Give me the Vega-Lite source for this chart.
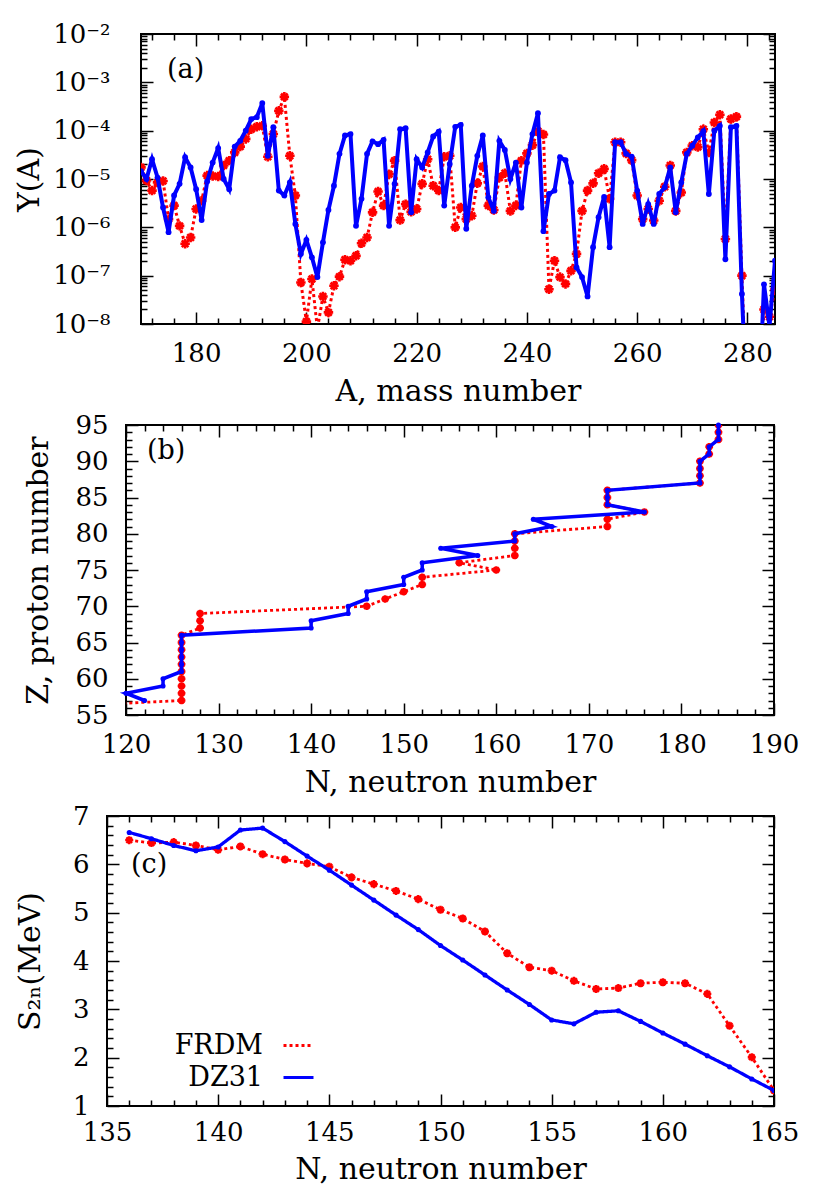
{
  "$schema": "https://vega.github.io/schema/vega-lite/v6.json",
  "background": "white",
  "padding": {"left": 5, "top": 20, "right": 5, "bottom": 5},
  "datasets": {
    "pa": [
      {"A":170,"Y":1.445e-5,"model":"DZ31"},{"A":171,"Y":1.0e-5,"model":"DZ31"},{"A":172,"Y":2.57e-5,"model":"DZ31"},{"A":173,"Y":1.072e-5,"model":"DZ31"},{"A":174,"Y":2.57e-6,"model":"DZ31"},{"A":175,"Y":7.943e-7,"model":"DZ31"},{"A":176,"Y":4.571e-6,"model":"DZ31"},{"A":177,"Y":7.943e-6,"model":"DZ31"},{"A":178,"Y":2.818e-5,"model":"DZ31"},{"A":179,"Y":1.738e-5,"model":"DZ31"},
      {"A":180,"Y":6.166e-6,"model":"DZ31"},{"A":181,"Y":1.413e-6,"model":"DZ31"},{"A":182,"Y":8.913e-6,"model":"DZ31"},{"A":183,"Y":2.188e-5,"model":"DZ31"},{"A":184,"Y":4.365e-5,"model":"DZ31"},{"A":185,"Y":1.0e-5,"model":"DZ31"},{"A":186,"Y":6.166e-6,"model":"DZ31"},{"A":187,"Y":4.677e-5,"model":"DZ31"},{"A":188,"Y":6.166e-5,"model":"DZ31"},{"A":189,"Y":1.0e-4,"model":"DZ31"},
      {"A":190,"Y":1.738e-4,"model":"DZ31"},{"A":191,"Y":1.905e-4,"model":"DZ31"},{"A":192,"Y":3.715e-4,"model":"DZ31"},{"A":193,"Y":3.02e-5,"model":"DZ31"},{"A":194,"Y":1.175e-4,"model":"DZ31"},{"A":195,"Y":5.754e-6,"model":"DZ31"},{"A":196,"Y":4.571e-6,"model":"DZ31"},{"A":197,"Y":8.511e-6,"model":"DZ31"},{"A":198,"Y":1.175e-6,"model":"DZ31"},{"A":199,"Y":2.818e-7,"model":"DZ31"},
      {"A":200,"Y":5.495e-7,"model":"DZ31"},{"A":201,"Y":2.399e-7,"model":"DZ31"},{"A":202,"Y":9.333e-8,"model":"DZ31"},{"A":203,"Y":4.898e-7,"model":"DZ31"},{"A":204,"Y":2.291e-6,"model":"DZ31"},{"A":205,"Y":7.244e-6,"model":"DZ31"},{"A":206,"Y":3.311e-5,"model":"DZ31"},{"A":207,"Y":7.943e-5,"model":"DZ31"},{"A":208,"Y":8.511e-5,"model":"DZ31"},{"A":209,"Y":1.072e-6,"model":"DZ31"},
      {"A":210,"Y":3.89e-6,"model":"DZ31"},{"A":211,"Y":3.311e-5,"model":"DZ31"},{"A":212,"Y":6.026e-5,"model":"DZ31"},{"A":213,"Y":5.248e-5,"model":"DZ31"},{"A":214,"Y":6.457e-5,"model":"DZ31"},{"A":215,"Y":1.072e-6,"model":"DZ31"},{"A":216,"Y":7.943e-6,"model":"DZ31"},{"A":217,"Y":1.072e-4,"model":"DZ31"},{"A":218,"Y":1.122e-4,"model":"DZ31"},{"A":219,"Y":2.042e-6,"model":"DZ31"},
      {"A":220,"Y":2.57e-5,"model":"DZ31"},{"A":221,"Y":1.738e-5,"model":"DZ31"},{"A":222,"Y":3.548e-5,"model":"DZ31"},{"A":223,"Y":7.586e-5,"model":"DZ31"},{"A":224,"Y":9.55e-5,"model":"DZ31"},{"A":225,"Y":2.818e-6,"model":"DZ31"},{"A":226,"Y":2.042e-5,"model":"DZ31"},{"A":227,"Y":1.202e-4,"model":"DZ31"},{"A":228,"Y":1.318e-4,"model":"DZ31"},{"A":229,"Y":9.333e-7,"model":"DZ31"},
      {"A":230,"Y":7.244e-6,"model":"DZ31"},{"A":231,"Y":3.02e-5,"model":"DZ31"},{"A":232,"Y":7.943e-5,"model":"DZ31"},{"A":233,"Y":4.169e-6,"model":"DZ31"},{"A":234,"Y":2.188e-6,"model":"DZ31"},{"A":235,"Y":6.166e-5,"model":"DZ31"},{"A":236,"Y":3.981e-5,"model":"DZ31"},{"A":237,"Y":1.0e-5,"model":"DZ31"},{"A":238,"Y":2.188e-5,"model":"DZ31"},{"A":239,"Y":2.57e-6,"model":"DZ31"},
      {"A":240,"Y":2.188e-5,"model":"DZ31"},{"A":241,"Y":8.511e-5,"model":"DZ31"},{"A":242,"Y":2.291e-4,"model":"DZ31"},{"A":243,"Y":8.318e-7,"model":"DZ31"},{"A":244,"Y":4.898e-6,"model":"DZ31"},{"A":245,"Y":5.754e-6,"model":"DZ31"},{"A":246,"Y":2.818e-5,"model":"DZ31"},{"A":247,"Y":2.455e-5,"model":"DZ31"},{"A":248,"Y":8.511e-6,"model":"DZ31"},{"A":249,"Y":1.479e-7,"model":"DZ31"},
      {"A":250,"Y":9.333e-8,"model":"DZ31"},{"A":251,"Y":3.715e-8,"model":"DZ31"},{"A":252,"Y":3.89e-7,"model":"DZ31"},{"A":253,"Y":1.622e-6,"model":"DZ31"},{"A":254,"Y":4.266e-6,"model":"DZ31"},{"A":255,"Y":3.89e-7,"model":"DZ31"},{"A":256,"Y":5.754e-5,"model":"DZ31"},{"A":257,"Y":5.754e-5,"model":"DZ31"},{"A":258,"Y":3.311e-5,"model":"DZ31"},{"A":259,"Y":2.884e-5,"model":"DZ31"},
      {"A":260,"Y":5.754e-6,"model":"DZ31"},{"A":261,"Y":1.175e-6,"model":"DZ31"},{"A":262,"Y":3.02e-6,"model":"DZ31"},{"A":263,"Y":1.175e-6,"model":"DZ31"},{"A":264,"Y":4.898e-6,"model":"DZ31"},{"A":265,"Y":6.761e-6,"model":"DZ31"},{"A":266,"Y":1.738e-5,"model":"DZ31"},{"A":267,"Y":2.042e-6,"model":"DZ31"},{"A":268,"Y":8.511e-6,"model":"DZ31"},{"A":269,"Y":3.311e-5,"model":"DZ31"},
      {"A":270,"Y":4.898e-5,"model":"DZ31"},{"A":271,"Y":7.244e-5,"model":"DZ31"},{"A":272,"Y":9.772e-5,"model":"DZ31"},{"A":273,"Y":4.898e-6,"model":"DZ31"},{"A":274,"Y":1.0e-4,"model":"DZ31"},{"A":275,"Y":1.259e-4,"model":"DZ31"},{"A":276,"Y":2.188e-7,"model":"DZ31"},{"A":277,"Y":1.175e-4,"model":"DZ31"},{"A":278,"Y":1.259e-4,"model":"DZ31"},{"A":279,"Y":4.169e-8,"model":"DZ31"},
      {"A":280,"Y":1e-10,"model":"DZ31"},{"A":281,"Y":1e-10,"model":"DZ31"},{"A":282,"Y":1e-10,"model":"DZ31"},{"A":283,"Y":6.607e-8,"model":"DZ31"},{"A":284,"Y":8.913e-9,"model":"DZ31"},{"A":285,"Y":2.042e-7,"model":"DZ31"},
      {"A":170,"Y":1.738e-5,"model":"FRDM"},{"A":171,"Y":9.333e-6,"model":"FRDM"},{"A":172,"Y":5.754e-6,"model":"FRDM"},{"A":173,"Y":8.511e-6,"model":"FRDM"},{"A":174,"Y":9.12e-6,"model":"FRDM"},{"A":175,"Y":1.479e-6,"model":"FRDM"},{"A":176,"Y":2.818e-6,"model":"FRDM"},{"A":177,"Y":1.072e-6,"model":"FRDM"},{"A":178,"Y":4.571e-7,"model":"FRDM"},{"A":179,"Y":6.166e-7,"model":"FRDM"},
      {"A":180,"Y":2.399e-6,"model":"FRDM"},{"A":181,"Y":3.548e-6,"model":"FRDM"},{"A":182,"Y":1.175e-5,"model":"FRDM"},{"A":183,"Y":1.148e-5,"model":"FRDM"},{"A":184,"Y":1.122e-5,"model":"FRDM"},{"A":185,"Y":1.905e-5,"model":"FRDM"},{"A":186,"Y":2.399e-5,"model":"FRDM"},{"A":187,"Y":3.548e-5,"model":"FRDM"},{"A":188,"Y":4.677e-5,"model":"FRDM"},{"A":189,"Y":6.761e-5,"model":"FRDM"},
      {"A":190,"Y":1.072e-4,"model":"FRDM"},{"A":191,"Y":1.202e-4,"model":"FRDM"},{"A":192,"Y":1.259e-4,"model":"FRDM"},{"A":193,"Y":2.884e-5,"model":"FRDM"},{"A":194,"Y":8.511e-5,"model":"FRDM"},{"A":195,"Y":2.57e-4,"model":"FRDM"},{"A":196,"Y":5.012e-4,"model":"FRDM"},{"A":197,"Y":3.02e-5,"model":"FRDM"},{"A":198,"Y":4.571e-6,"model":"FRDM"},{"A":199,"Y":7.244e-8,"model":"FRDM"},
      {"A":200,"Y":1.122e-8,"model":"FRDM"},{"A":201,"Y":8.511e-8,"model":"FRDM"},{"A":202,"Y":7.943e-9,"model":"FRDM"},{"A":203,"Y":3.715e-8,"model":"FRDM"},{"A":204,"Y":1.738e-8,"model":"FRDM"},{"A":205,"Y":6.166e-8,"model":"FRDM"},{"A":206,"Y":9.55e-8,"model":"FRDM"},{"A":207,"Y":2.138e-7,"model":"FRDM"},{"A":208,"Y":2.042e-7,"model":"FRDM"},{"A":209,"Y":2.57e-7,"model":"FRDM"},
      {"A":210,"Y":4.677e-7,"model":"FRDM"},{"A":211,"Y":6.166e-7,"model":"FRDM"},{"A":212,"Y":2.042e-6,"model":"FRDM"},{"A":213,"Y":5.495e-6,"model":"FRDM"},{"A":214,"Y":2.818e-6,"model":"FRDM"},{"A":215,"Y":1.259e-5,"model":"FRDM"},{"A":216,"Y":2.399e-5,"model":"FRDM"},{"A":217,"Y":1.413e-6,"model":"FRDM"},{"A":218,"Y":3.02e-6,"model":"FRDM"},{"A":219,"Y":2.089e-6,"model":"FRDM"},
      {"A":220,"Y":2.399e-6,"model":"FRDM"},{"A":221,"Y":7.943e-6,"model":"FRDM"},{"A":222,"Y":2.57e-5,"model":"FRDM"},{"A":223,"Y":7.244e-6,"model":"FRDM"},{"A":224,"Y":5.754e-6,"model":"FRDM"},{"A":225,"Y":2.884e-5,"model":"FRDM"},{"A":226,"Y":3.02e-5,"model":"FRDM"},{"A":227,"Y":1.0e-6,"model":"FRDM"},{"A":228,"Y":2.57e-6,"model":"FRDM"},{"A":229,"Y":1.479e-6,"model":"FRDM"},
      {"A":230,"Y":1.738e-6,"model":"FRDM"},{"A":231,"Y":8.128e-6,"model":"FRDM"},{"A":232,"Y":1.82e-5,"model":"FRDM"},{"A":233,"Y":2.818e-6,"model":"FRDM"},{"A":234,"Y":2.291e-6,"model":"FRDM"},{"A":235,"Y":1.072e-5,"model":"FRDM"},{"A":236,"Y":1.318e-5,"model":"FRDM"},{"A":237,"Y":2.188e-6,"model":"FRDM"},{"A":238,"Y":2.818e-6,"model":"FRDM"},{"A":239,"Y":2.399e-5,"model":"FRDM"},
      {"A":240,"Y":3.388e-5,"model":"FRDM"},{"A":241,"Y":5.012e-5,"model":"FRDM"},{"A":242,"Y":9.772e-5,"model":"FRDM"},{"A":243,"Y":8.318e-5,"model":"FRDM"},{"A":244,"Y":5.248e-8,"model":"FRDM"},{"A":245,"Y":2.042e-7,"model":"FRDM"},{"A":246,"Y":9.333e-8,"model":"FRDM"},{"A":247,"Y":6.761e-8,"model":"FRDM"},{"A":248,"Y":1.259e-7,"model":"FRDM"},{"A":249,"Y":2.818e-7,"model":"FRDM"},
      {"A":250,"Y":2.188e-6,"model":"FRDM"},{"A":251,"Y":5.754e-6,"model":"FRDM"},{"A":252,"Y":8.128e-6,"model":"FRDM"},{"A":253,"Y":1.318e-5,"model":"FRDM"},{"A":254,"Y":1.622e-5,"model":"FRDM"},{"A":255,"Y":3.89e-6,"model":"FRDM"},{"A":256,"Y":5.754e-5,"model":"FRDM"},{"A":257,"Y":5.754e-5,"model":"FRDM"},{"A":258,"Y":3.388e-5,"model":"FRDM"},{"A":259,"Y":2.455e-5,"model":"FRDM"},
      {"A":260,"Y":4.571e-6,"model":"FRDM"},{"A":261,"Y":1.479e-6,"model":"FRDM"},{"A":262,"Y":2.399e-6,"model":"FRDM"},{"A":263,"Y":1.38e-6,"model":"FRDM"},{"A":264,"Y":3.548e-6,"model":"FRDM"},{"A":265,"Y":6.918e-6,"model":"FRDM"},{"A":266,"Y":1.905e-5,"model":"FRDM"},{"A":267,"Y":2.188e-6,"model":"FRDM"},{"A":268,"Y":5.248e-6,"model":"FRDM"},{"A":269,"Y":3.548e-5,"model":"FRDM"},
      {"A":270,"Y":4.898e-5,"model":"FRDM"},{"A":271,"Y":4.571e-5,"model":"FRDM"},{"A":272,"Y":1.072e-4,"model":"FRDM"},{"A":273,"Y":3.548e-5,"model":"FRDM"},{"A":274,"Y":1.479e-4,"model":"FRDM"},{"A":275,"Y":2.138e-4,"model":"FRDM"},{"A":276,"Y":5.754e-7,"model":"FRDM"},{"A":277,"Y":1.738e-4,"model":"FRDM"},{"A":278,"Y":1.95e-4,"model":"FRDM"},{"A":279,"Y":1.0e-7,"model":"FRDM"},
      {"A":280,"Y":1e-10,"model":"FRDM"},{"A":281,"Y":1e-10,"model":"FRDM"},{"A":282,"Y":1e-10,"model":"FRDM"},{"A":283,"Y":1.995e-8,"model":"FRDM"},{"A":284,"Y":1.413e-8,"model":"FRDM"},{"A":285,"Y":5.248e-8,"model":"FRDM"}
    ],
    "pb": [
      {"N":122,"Z":57,"model":"DZ31"},{"N":120,"Z":58,"model":"DZ31"},{"N":124,"Z":59,"model":"DZ31"},{"N":124,"Z":60,"model":"DZ31"},{"N":126,"Z":61,"model":"DZ31"},{"N":126,"Z":62,"model":"DZ31"},{"N":126,"Z":63,"model":"DZ31"},{"N":126,"Z":64,"model":"DZ31"},{"N":126,"Z":65,"model":"DZ31"},{"N":126,"Z":66,"model":"DZ31"},
      {"N":140,"Z":67,"model":"DZ31"},{"N":140,"Z":68,"model":"DZ31"},{"N":144,"Z":69,"model":"DZ31"},{"N":144,"Z":70,"model":"DZ31"},{"N":146,"Z":71,"model":"DZ31"},{"N":146,"Z":72,"model":"DZ31"},{"N":150,"Z":73,"model":"DZ31"},{"N":150,"Z":74,"model":"DZ31"},{"N":152,"Z":75,"model":"DZ31"},{"N":152,"Z":76,"model":"DZ31"},
      {"N":158,"Z":77,"model":"DZ31"},{"N":154,"Z":78,"model":"DZ31"},{"N":162,"Z":79,"model":"DZ31"},{"N":162,"Z":80,"model":"DZ31"},{"N":166,"Z":81,"model":"DZ31"},{"N":164,"Z":82,"model":"DZ31"},{"N":176,"Z":83,"model":"DZ31"},{"N":172,"Z":84,"model":"DZ31"},{"N":172,"Z":85,"model":"DZ31"},{"N":172,"Z":86,"model":"DZ31"},
      {"N":182,"Z":87,"model":"DZ31"},{"N":182,"Z":88,"model":"DZ31"},{"N":182,"Z":89,"model":"DZ31"},{"N":182,"Z":90,"model":"DZ31"},{"N":183,"Z":91,"model":"DZ31"},{"N":183,"Z":92,"model":"DZ31"},{"N":184,"Z":93,"model":"DZ31"},{"N":184,"Z":94,"model":"DZ31"},{"N":184,"Z":95,"model":"DZ31"},
      {"N":110,"Z":56,"model":"FRDM"},{"N":126,"Z":57,"model":"FRDM"},{"N":126,"Z":58,"model":"FRDM"},{"N":126,"Z":59,"model":"FRDM"},{"N":126,"Z":60,"model":"FRDM"},{"N":126,"Z":61,"model":"FRDM"},{"N":126,"Z":62,"model":"FRDM"},{"N":126,"Z":63,"model":"FRDM"},{"N":126,"Z":64,"model":"FRDM"},{"N":126,"Z":65,"model":"FRDM"},{"N":126,"Z":66,"model":"FRDM"},
      {"N":128,"Z":67,"model":"FRDM"},{"N":128,"Z":68,"model":"FRDM"},{"N":128,"Z":69,"model":"FRDM"},{"N":146,"Z":70,"model":"FRDM"},{"N":148,"Z":71,"model":"FRDM"},{"N":150,"Z":72,"model":"FRDM"},{"N":152,"Z":73,"model":"FRDM"},{"N":152,"Z":74,"model":"FRDM"},{"N":160,"Z":75,"model":"FRDM"},{"N":156,"Z":76,"model":"FRDM"},
      {"N":162,"Z":77,"model":"FRDM"},{"N":162,"Z":78,"model":"FRDM"},{"N":162,"Z":79,"model":"FRDM"},{"N":162,"Z":80,"model":"FRDM"},{"N":172,"Z":81,"model":"FRDM"},{"N":172,"Z":82,"model":"FRDM"},{"N":176,"Z":83,"model":"FRDM"},{"N":172,"Z":84,"model":"FRDM"},{"N":172,"Z":85,"model":"FRDM"},{"N":172,"Z":86,"model":"FRDM"},
      {"N":182,"Z":87,"model":"FRDM"},{"N":182,"Z":88,"model":"FRDM"},{"N":182,"Z":89,"model":"FRDM"},{"N":182,"Z":90,"model":"FRDM"},{"N":183,"Z":91,"model":"FRDM"},{"N":183,"Z":92,"model":"FRDM"},{"N":184,"Z":93,"model":"FRDM"},{"N":184,"Z":94,"model":"FRDM"},{"N":184,"Z":95,"model":"FRDM"}
    ],
    "pc": [
      {"N":136,"S":6.66,"model":"DZ31"},{"N":137,"S":6.53,"model":"DZ31"},{"N":138,"S":6.39,"model":"DZ31"},{"N":139,"S":6.28,"model":"DZ31"},{"N":140,"S":6.36,"model":"DZ31"},{"N":141,"S":6.71,"model":"DZ31"},{"N":142,"S":6.75,"model":"DZ31"},{"N":143,"S":6.47,"model":"DZ31"},{"N":144,"S":6.17,"model":"DZ31"},{"N":145,"S":5.88,"model":"DZ31"},
      {"N":146,"S":5.57,"model":"DZ31"},{"N":147,"S":5.26,"model":"DZ31"},{"N":148,"S":4.95,"model":"DZ31"},{"N":149,"S":4.65,"model":"DZ31"},{"N":150,"S":4.32,"model":"DZ31"},{"N":151,"S":4.02,"model":"DZ31"},{"N":152,"S":3.71,"model":"DZ31"},{"N":153,"S":3.40,"model":"DZ31"},{"N":154,"S":3.10,"model":"DZ31"},{"N":155,"S":2.78,"model":"DZ31"},
      {"N":156,"S":2.70,"model":"DZ31"},{"N":157,"S":2.94,"model":"DZ31"},{"N":158,"S":2.97,"model":"DZ31"},{"N":159,"S":2.75,"model":"DZ31"},{"N":160,"S":2.51,"model":"DZ31"},{"N":161,"S":2.28,"model":"DZ31"},{"N":162,"S":2.04,"model":"DZ31"},{"N":163,"S":1.81,"model":"DZ31"},{"N":164,"S":1.56,"model":"DZ31"},{"N":165,"S":1.32,"model":"DZ31"},
      {"N":136,"S":6.50,"model":"FRDM"},{"N":137,"S":6.44,"model":"FRDM"},{"N":138,"S":6.46,"model":"FRDM"},{"N":139,"S":6.39,"model":"FRDM"},{"N":140,"S":6.30,"model":"FRDM"},{"N":141,"S":6.37,"model":"FRDM"},{"N":142,"S":6.21,"model":"FRDM"},{"N":143,"S":6.10,"model":"FRDM"},{"N":144,"S":6.02,"model":"FRDM"},{"N":145,"S":5.95,"model":"FRDM"},
      {"N":146,"S":5.73,"model":"FRDM"},{"N":147,"S":5.59,"model":"FRDM"},{"N":148,"S":5.45,"model":"FRDM"},{"N":149,"S":5.28,"model":"FRDM"},{"N":150,"S":5.06,"model":"FRDM"},{"N":151,"S":4.88,"model":"FRDM"},{"N":152,"S":4.61,"model":"FRDM"},{"N":153,"S":4.16,"model":"FRDM"},{"N":154,"S":3.87,"model":"FRDM"},{"N":155,"S":3.80,"model":"FRDM"},
      {"N":156,"S":3.59,"model":"FRDM"},{"N":157,"S":3.42,"model":"FRDM"},{"N":158,"S":3.44,"model":"FRDM"},{"N":159,"S":3.54,"model":"FRDM"},{"N":160,"S":3.56,"model":"FRDM"},{"N":161,"S":3.54,"model":"FRDM"},{"N":162,"S":3.32,"model":"FRDM"},{"N":163,"S":2.66,"model":"FRDM"},{"N":164,"S":2.01,"model":"FRDM"},{"N":165,"S":1.32,"model":"FRDM"}
    ],
    "one": [{"dummy": 0}]
  },
  "spacing": 4,
  "vconcat": [
    {
      "spacing": 0,
      "bounds": "flush",
      "hconcat": [
        {"width": 136, "height": 10, "data": {"name": "one"}, "mark": {"type": "point", "opacity": 0}, "view": {"stroke": null}},
        {
          "width": 634,
          "height": 290,
          "title": {"text": "(a)", "orient": "top", "anchor": "start", "frame": "group", "offset": 0, "dx": 26, "dy": 76, "baseline": "middle", "fontSize": 27, "font": "DejaVu Serif", "fontWeight": "normal", "color": "black"},
          "data": {"name": "pa"},
          "layer": [
            {
              "encoding": {
                "x": {"field": "A", "type": "quantitative", "scale": {"domain": [170, 285], "nice": false, "zero": false},
                  "axis": {"orient": "bottom", "title": "A, mass number", "values": [172,176,180,184,188,192,196,200,204,208,212,216,220,224,228,232,236,240,244,248,252,256,260,264,268,272,276,280,284],
                    "labelExpr": "datum.value % 20 === 0 ? format(datum.value, 'd') : ''",
                    "tickSize": {"condition": {"test": "datum.value % 20 === 0", "value": -12}, "value": -6},
                    "labelPadding": 28, "titlePadding": 4}},
                "y": {"field": "Y", "type": "quantitative", "scale": {"type": "log", "domain": [1e-8, 1e-2], "nice": false},
                  "axis": {"orient": "left", "title": "Y(A)", "values": [1e-8,2e-8,3e-8,4e-8,5e-8,6e-8,7e-8,8e-8,9e-8,1e-7,2e-7,3e-7,4e-7,5e-7,6e-7,7e-7,8e-7,9e-7,1e-6,2e-6,3e-6,4e-6,5e-6,6e-6,7e-6,8e-6,9e-6,1e-5,2e-5,3e-5,4e-5,5e-5,6e-5,7e-5,8e-5,9e-5,1e-4,2e-4,3e-4,4e-4,5e-4,6e-4,7e-4,8e-4,9e-4,1e-3,2e-3,3e-3,4e-3,5e-3,6e-3,7e-3,8e-3,9e-3,1e-2],
                    "labelExpr": "abs(log(datum.value)/LN10 - round(log(datum.value)/LN10)) < 0.01 ? '10' + ['⁻⁸','⁻⁷','⁻⁶','⁻⁵','⁻⁴','⁻³','⁻²'][round(log(datum.value)/LN10) + 8] : ''",
                    "tickSize": {"condition": {"test": "abs(log(datum.value)/LN10 - round(log(datum.value)/LN10)) < 0.01", "value": -12}, "value": -6},
                    "labelPadding": 43, "titlePadding": 8}}
              },
              "layer": [
                {"transform": [{"filter": "datum.model === 'FRDM'"}], "mark": {"type": "line", "color": "#ff0000", "strokeWidth": 3, "strokeDash": [3, 3], "clip": true}},
                {"transform": [{"filter": "datum.model === 'FRDM'"}], "mark": {"type": "point", "shape": "M-1,0L1,0M0,-1L0,1M-0.7,-0.7L0.7,0.7M-0.7,0.7L0.7,-0.7", "filled": false, "stroke": "#ff0000", "strokeWidth": 2.6, "size": 90, "opacity": 1, "clip": true}},
                {"transform": [{"filter": "datum.model === 'DZ31'"}], "mark": {"type": "line", "color": "#0000ff", "strokeWidth": 4, "clip": true}},
                {"transform": [{"filter": "datum.model === 'DZ31'"}], "mark": {"type": "point", "shape": "circle", "filled": true, "color": "#0000ff", "size": 34, "opacity": 1, "clip": true}}
              ]
            },
            {
              "transform": [{"filter": "datum.Y >= 1e-8"}],
              "mark": {"type": "point", "opacity": 0},
              "encoding": {
                "x": {"field": "A", "type": "quantitative", "axis": {"orient": "top", "title": null, "labels": false, "values": [172,176,180,184,188,192,196,200,204,208,212,216,220,224,228,232,236,240,244,248,252,256,260,264,268,272,276,280,284],
                    "tickSize": {"condition": {"test": "datum.value % 20 === 0", "value": -12}, "value": -6}}},
                "y": {"field": "Y", "type": "quantitative", "axis": {"orient": "right", "title": null, "labels": false, "values": [1e-8,2e-8,3e-8,4e-8,5e-8,6e-8,7e-8,8e-8,9e-8,1e-7,2e-7,3e-7,4e-7,5e-7,6e-7,7e-7,8e-7,9e-7,1e-6,2e-6,3e-6,4e-6,5e-6,6e-6,7e-6,8e-6,9e-6,1e-5,2e-5,3e-5,4e-5,5e-5,6e-5,7e-5,8e-5,9e-5,1e-4,2e-4,3e-4,4e-4,5e-4,6e-4,7e-4,8e-4,9e-4,1e-3,2e-3,3e-3,4e-3,5e-3,6e-3,7e-3,8e-3,9e-3,1e-2],
                    "tickSize": {"condition": {"test": "abs(log(datum.value)/LN10 - round(log(datum.value)/LN10)) < 0.01", "value": -12}, "value": -6}}}
              }
            }
          ],
          "resolve": {"axis": {"x": "independent", "y": "independent"}}
        }
      ]
    },
    {
      "spacing": 0,
      "bounds": "flush",
      "hconcat": [
        {"width": 121, "height": 10, "data": {"name": "one"}, "mark": {"type": "point", "opacity": 0}, "view": {"stroke": null}},
        {
          "width": 648,
          "height": 290,
          "title": {"text": "(b)", "orient": "top", "anchor": "start", "frame": "group", "offset": 0, "dx": 21, "dy": 66, "baseline": "middle", "fontSize": 27, "font": "DejaVu Serif", "fontWeight": "normal", "color": "black"},
          "data": {"name": "pb"},
          "layer": [
            {
              "encoding": {
                "x": {"field": "N", "type": "quantitative", "scale": {"domain": [120, 190], "nice": false, "zero": false},
                  "axis": {"orient": "bottom", "title": "N, neutron number", "values": [120,122,124,126,128,130,132,134,136,138,140,142,144,146,148,150,152,154,156,158,160,162,164,166,168,170,172,174,176,178,180,182,184,186,188,190],
                    "labelExpr": "datum.value % 10 === 0 ? format(datum.value, 'd') : ''",
                    "tickSize": {"condition": {"test": "datum.value % 10 === 0", "value": -12}, "value": -6},
                    "labelPadding": 28, "titlePadding": 4}},
                "y": {"field": "Z", "type": "quantitative", "scale": {"domain": [55, 95], "nice": false, "zero": false},
                  "axis": {"orient": "left", "title": "Z, proton number", "values": [55,56,57,58,59,60,61,62,63,64,65,66,67,68,69,70,71,72,73,74,75,76,77,78,79,80,81,82,83,84,85,86,87,88,89,90,91,92,93,94,95],
                    "labelExpr": "datum.value % 5 === 0 ? format(datum.value, 'd') : ''",
                    "tickSize": {"condition": {"test": "datum.value % 5 === 0", "value": -12}, "value": -6},
                    "labelPadding": 30, "titlePadding": 21}},
                "order": {"field": "Z", "type": "quantitative"}
              },
              "layer": [
                {"transform": [{"filter": "datum.model === 'FRDM'"}], "mark": {"type": "line", "color": "#ff0000", "strokeWidth": 2.8, "strokeDash": [3, 3], "clip": true}},
                {"transform": [{"filter": "datum.model === 'FRDM'"}], "mark": {"type": "point", "shape": "M-1,0L1,0M0,-1L0,1M-0.7,-0.7L0.7,0.7M-0.7,0.7L0.7,-0.7", "filled": false, "stroke": "#ff0000", "strokeWidth": 2.4, "size": 60, "opacity": 1, "clip": true}},
                {"transform": [{"filter": "datum.model === 'DZ31'"}], "mark": {"type": "line", "color": "#0000ff", "strokeWidth": 3.5}},
                {"transform": [{"filter": "datum.model === 'DZ31'"}], "mark": {"type": "point", "shape": "circle", "filled": true, "color": "#0000ff", "size": 26, "opacity": 1}}
              ]
            },
            {
              "transform": [{"filter": "datum.N >= 120"}],
              "mark": {"type": "point", "opacity": 0},
              "encoding": {
                "x": {"field": "N", "type": "quantitative", "axis": {"orient": "top", "title": null, "labels": false, "values": [120,122,124,126,128,130,132,134,136,138,140,142,144,146,148,150,152,154,156,158,160,162,164,166,168,170,172,174,176,178,180,182,184,186,188,190],
                    "tickSize": {"condition": {"test": "datum.value % 10 === 0", "value": -12}, "value": -6}}},
                "y": {"field": "Z", "type": "quantitative", "axis": {"orient": "right", "title": null, "labels": false, "values": [55,56,57,58,59,60,61,62,63,64,65,66,67,68,69,70,71,72,73,74,75,76,77,78,79,80,81,82,83,84,85,86,87,88,89,90,91,92,93,94,95],
                    "tickSize": {"condition": {"test": "datum.value % 5 === 0", "value": -12}, "value": -6}}}
              }
            }
          ],
          "resolve": {"axis": {"x": "independent", "y": "independent"}}
        }
      ]
    },
    {
      "spacing": 0,
      "bounds": "flush",
      "resolve": {"scale": {"color": "independent", "strokeDash": "independent"}, "legend": {"color": "independent", "strokeDash": "independent"}},
      "hconcat": [
        {"width": 102, "height": 10, "data": {"name": "one"}, "mark": {"type": "point", "opacity": 0}, "view": {"stroke": null}},
        {
          "width": 667,
          "height": 290,
          "title": {"text": "(c)", "orient": "top", "anchor": "start", "frame": "group", "offset": 0, "dx": 24, "dy": 89, "baseline": "middle", "fontSize": 27, "font": "DejaVu Serif", "fontWeight": "normal", "color": "black"},
          "data": {"name": "pc"},
          "layer": [
            {
              "encoding": {
                "x": {"field": "N", "type": "quantitative", "scale": {"domain": [135, 165], "nice": false, "zero": false},
                  "axis": {"orient": "bottom", "title": "N, neutron number", "values": [135,136,137,138,139,140,141,142,143,144,145,146,147,148,149,150,151,152,153,154,155,156,157,158,159,160,161,162,163,164,165],
                    "labelExpr": "datum.value % 5 === 0 ? format(datum.value, 'd') : ''",
                    "tickSize": {"condition": {"test": "datum.value % 5 === 0", "value": -12}, "value": -6},
                    "labelPadding": 25, "titlePadding": 3}},
                "y": {"field": "S", "type": "quantitative", "scale": {"domain": [1, 7], "nice": false, "zero": false},
                  "axis": {"orient": "left", "title": "S₂ₙ(MeV)", "values": [1,1.2,1.4,1.6,1.8,2,2.2,2.4,2.6,2.8,3,3.2,3.4,3.6,3.8,4,4.2,4.4,4.6,4.8,5,5.2,5.4,5.6,5.8,6,6.2,6.4,6.6,6.8,7],
                    "labelExpr": "abs(datum.value - round(datum.value)) < 0.01 ? format(datum.value, '.0f') : ''",
                    "tickSize": {"condition": {"test": "abs(datum.value - round(datum.value)) < 0.01", "value": -12}, "value": -6},
                    "labelPadding": 30, "titlePadding": 27}}
              },
              "layer": [
                {"transform": [{"filter": "datum.model === 'FRDM'"}], "mark": {"type": "line", "strokeWidth": 2.8, "clip": true},
                  "encoding": {
                    "color": {"field": "model", "type": "nominal", "scale": {"domain": ["FRDM", "DZ31"], "range": ["#ff0000", "#0000ff"]}},
                    "strokeDash": {"field": "model", "type": "nominal", "scale": {"domain": ["FRDM", "DZ31"], "range": [[3, 3], [1, 0]]}}
                  }},
                {"transform": [{"filter": "datum.model === 'FRDM'"}], "mark": {"type": "point", "shape": "M-1,0L1,0M0,-1L0,1M-0.7,-0.7L0.7,0.7M-0.7,0.7L0.7,-0.7", "filled": false, "stroke": "#ff0000", "strokeWidth": 2.4, "size": 65, "opacity": 1, "clip": true}},
                {"transform": [{"filter": "datum.model === 'DZ31'"}], "mark": {"type": "line", "strokeWidth": 3.3, "clip": true},
                  "encoding": {
                    "color": {"field": "model", "type": "nominal", "scale": {"domain": ["FRDM", "DZ31"], "range": ["#ff0000", "#0000ff"]}},
                    "strokeDash": {"field": "model", "type": "nominal", "scale": {"domain": ["FRDM", "DZ31"], "range": [[3, 3], [1, 0]]}}
                  }},
                {"transform": [{"filter": "datum.model === 'DZ31'"}], "mark": {"type": "point", "shape": "circle", "filled": true, "color": "#0000ff", "size": 26, "opacity": 1, "clip": true}}
              ]
            },
            {
              "mark": {"type": "point", "opacity": 0},
              "encoding": {
                "x": {"field": "N", "type": "quantitative", "axis": {"orient": "top", "title": null, "labels": false, "values": [135,136,137,138,139,140,141,142,143,144,145,146,147,148,149,150,151,152,153,154,155,156,157,158,159,160,161,162,163,164,165],
                    "tickSize": {"condition": {"test": "datum.value % 5 === 0", "value": -12}, "value": -6}}},
                "y": {"field": "S", "type": "quantitative", "axis": {"orient": "right", "title": null, "labels": false, "values": [1,1.2,1.4,1.6,1.8,2,2.2,2.4,2.6,2.8,3,3.2,3.4,3.6,3.8,4,4.2,4.4,4.6,4.8,5,5.2,5.4,5.6,5.8,6,6.2,6.4,6.6,6.8,7],
                    "tickSize": {"condition": {"test": "abs(datum.value - round(datum.value)) < 0.01", "value": -12}, "value": -6}}}
              }
            }
          ],
          "resolve": {"axis": {"x": "independent", "y": "independent"}}
        }
      ]
    }
  ],
  "resolve": {"scale": {"color": "independent", "strokeDash": "independent"}, "legend": {"color": "independent", "strokeDash": "independent"}},
  "config": {
    "view": {"stroke": "black", "strokeWidth": 2},
    "axis": {"domain": false, "grid": false, "tickColor": "black", "tickWidth": 1.5, "labelFont": "DejaVu Serif", "labelFontSize": 26, "labelColor": "black", "titleFont": "DejaVu Serif", "titleFontSize": 30, "titleFontWeight": "normal", "titleColor": "black", "labelOverlap": false, "labelFlush": false, "labelBound": false},
    "legend": {"orient": "none", "legendX": 175, "legendY": 213, "direction": "vertical", "title": null, "symbolType": "stroke", "symbolSize": 900, "symbolStrokeWidth": 3, "labelAlign": "right", "labelOffset": -52, "labelFontSize": 27, "labelFont": "DejaVu Serif", "labelColor": "black", "padding": 0, "rowPadding": 2}
  }
}
